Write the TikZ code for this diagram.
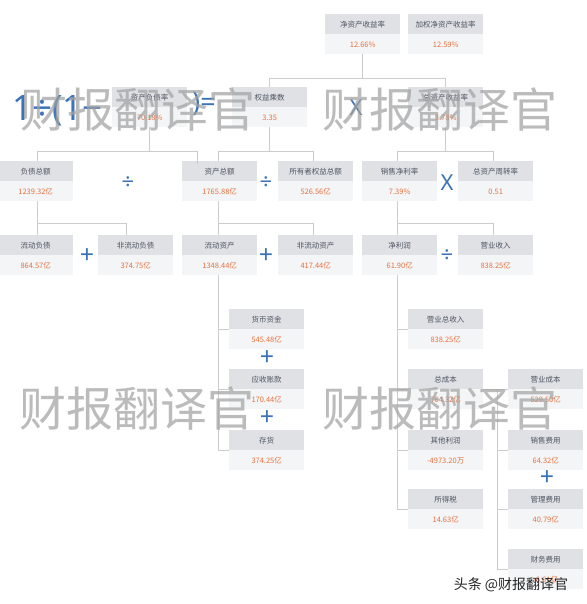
\documentclass[tikz,border=0pt]{standalone}
\usepackage{fontspec}
\setmainfont{Noto Sans CJK SC}
\newfontfamily\cjk{Noto Sans CJK SC}
\newfontfamily\lat{Noto Sans}
\usetikzlibrary{shapes.multipart,calc}
\definecolor{hdr}{HTML}{DFE1E5}
\definecolor{valbg}{HTML}{F4F5F7}
\definecolor{ttl}{HTML}{4E5561}
\definecolor{vcol}{HTML}{E8703A}
\definecolor{lncol}{HTML}{CCCCCC}
\definecolor{opblue}{HTML}{3B73B9}
\definecolor{wmgray}{HTML}{A2A2A2}
\newcommand\bstrut{\rule[-6pt]{0pt}{19.5pt}}
\tikzset{
  box/.style={rectangle split, rectangle split parts=2,
    rectangle split part fill={hdr,valbg}, draw=none,
    text width=75pt, inner xsep=0pt, inner ysep=0pt, align=center,
    anchor=north west, font=\cjk\fontsize{7.5}{9}\selectfont},
  ln/.style={draw=lncol, line width=0.8pt},
  opsym/.style={text=opblue, inner sep=0pt, font=\lat\fontsize{22}{22}\selectfont},
  plussym/.style={opsym, font=\lat\fontsize{25}{25}\selectfont},
  formula/.style={text=opblue, inner sep=0pt, anchor=base west},
  wm/.style={text=wmgray, opacity=0.72, inner sep=0pt, font=\cjk\fontsize{47}{47}\selectfont},
  tag/.style={text=black!85, inner sep=0pt, font=\cjk\fontsize{14}{14}\selectfont}
}
\newcommand\mybox[5]{\node[box] (#1) at (#2,-#3) {\bstrut\textcolor{ttl}{#4}\nodepart{two}\bstrut\textcolor{vcol}{#5}};}
\begin{document}
\begin{tikzpicture}[x=1pt,y=1pt]
\useasboundingbox[fill=white] (0,0) rectangle (586,-604);

% ---------- boxes ----------
\mybox{roe}{325}{14}{净资产收益率}{12.66\%}
\mybox{wroe}{408}{14}{加权净资产收益率}{12.59\%}
\mybox{dar}{112}{87}{资产负债率}{70.18\%}
\mybox{em}{232}{87}{权益乘数}{3.35}
\mybox{roa}{408}{87}{总资产收益率}{3.78\%}
\mybox{tl}{-2}{161}{负债总额}{1239.32亿}
\mybox{ta}{182}{161}{资产总额}{1765.88亿}
\mybox{oe}{278}{161}{所有者权益总额}{526.56亿}
\mybox{npm}{362}{161}{销售净利率}{7.39\%}
\mybox{tat}{458}{161}{总资产周转率}{0.51}
\mybox{cl}{-2}{235}{流动负债}{864.57亿}
\mybox{ncl}{98}{235}{非流动负债}{374.75亿}
\mybox{ca}{182}{235}{流动资产}{1348.44亿}
\mybox{nca}{278}{235}{非流动资产}{417.44亿}
\mybox{np}{362}{235}{净利润}{61.90亿}
\mybox{rev}{458}{235}{营业收入}{838.25亿}
\mybox{cash}{229}{309}{货币资金}{545.48亿}
\mybox{ar}{229}{369}{应收账款}{170.44亿}
\mybox{inv}{229}{430}{存货}{374.25亿}
\mybox{tr}{408}{309}{营业总收入}{838.25亿}
\mybox{tc}{408}{369}{总成本}{764.32亿}
\mybox{cos}{508}{369}{营业成本}{529.50亿}
\mybox{op}{408}{430}{其他利润}{-4973.20万}
\mybox{se}{508}{430}{销售费用}{64.32亿}
\mybox{tax}{408}{489}{所得税}{14.63亿}
\mybox{ae}{508}{489}{管理费用}{40.79亿}
\mybox{fe}{508}{549}{财务费用}{-6.61亿}

% ---------- connectors ----------
\coordinate (j1) at ($(roe.south)+(0,-24)$);
\draw[ln] (roe.south) -- (j1);
\draw[ln] (em.north) |- (j1) -| (roa.north);

\coordinate (j2) at ($(dar.south)+(0,-24)$);
\coordinate (k2) at ($(ta.north)+(-22,-3)$);
\draw[ln] (dar.south) -- (j2);
\draw[ln] ($(tl.north)+(2,0)$) |- (j2) -| (k2);

\coordinate (j3) at ($(em.south)+(0,-24)$);
\draw[ln] (em.south) -- (j3);
\draw[ln] ($(ta.north)+(-1.5,0)$) |- (j3) -| ($(oe.north)+(-2.5,0)$);

\coordinate (j4) at ($(roa.south)+(0,-24)$);
\draw[ln] (roa.south) -- (j4);
\draw[ln] ($(npm.north)+(-2.5,0)$) |- (j4) -| ($(tat.north)+(-2.5,0)$);

\coordinate (j5) at ($(tl.south)+(2,-22)$);
\draw[ln] ($(tl.south)+(2,0)$) -- (j5) -| ($(ncl.north)+(-9,0)$);
\draw[ln] (j5) -- ($(cl.north)+(2,0)$);

\coordinate (j6) at ($(ta.south)+(-1.5,-22)$);
\draw[ln] ($(ta.south)+(-1.5,0)$) -- (j6) -| ($(nca.north)+(-2.5,0)$);
\draw[ln] (j6) -- ($(ca.north)+(-1.5,0)$);

\coordinate (j7) at ($(npm.south)+(-2.5,-22)$);
\draw[ln] ($(npm.south)+(-2.5,0)$) -- (j7) -| ($(rev.north)+(-2.5,0)$);
\draw[ln] (j7) -- ($(np.north)+(-2.5,0)$);

\coordinate (c0) at ($(ca.south)+(-1.5,0)$);
\draw[ln] (c0) |- (cash.one split west);
\draw[ln] (c0) |- (ar.one split west);
\draw[ln] (c0) |- (inv.one split west);

\coordinate (n0) at ($(np.south)+(-2.5,0)$);
\draw[ln] (n0) |- (tr.one split west);
\draw[ln] (n0) |- (tc.one split west);
\draw[ln] (n0) |- (op.one split west);
\draw[ln] (n0) |- (tax.one split west);

\coordinate (t0) at ($(tc.one split east)!0.56!(cos.one split west)$);
\draw[ln] (tc.one split east) -- (cos.one split west);
\draw[ln] (t0) |- (se.one split west);
\draw[ln] (t0) |- (ae.one split west);
\draw[ln] (t0) |- (fe.one split west);

% ---------- operators ----------
\node[formula, font=\lat\fontsize{35}{35}\selectfont] (f1) at (12,-121) {1÷(1−};
\node[formula, font=\lat\fontsize{27}{27}\selectfont] (f2) at (192,-112) {)=};
\node[opsym] (x1) at (356,-108) {X};
\node[opsym] (d1) at (128,-183) {÷};
\node[opsym] (d2) at (266,-183) {÷};
\node[opsym] (x2) at (447,-183) {X};
\node[plussym] (p1) at (87,-256) {+};
\node[plussym] (p2) at (266,-256) {+};
\node[opsym] (d3) at (447,-256) {÷};
\node[plussym] (p3) at (267,-358) {+};
\node[plussym] (p4) at (267,-418) {+};
\node[plussym] (p5) at (547,-478) {+};

% ---------- watermarks ----------
\node[wm] (w1) at (138,-110) {财报翻译官};
\node[wm] (w2) at (440,-110) {财报翻译官};
\node[wm] (w3) at (137,-409) {财报翻译官};
\node[wm] (w4) at (440,-409) {财报翻译官};
\node[tag] (w5) at (511,-585) {头条 @财报翻译官};
\end{tikzpicture}
\end{document}
